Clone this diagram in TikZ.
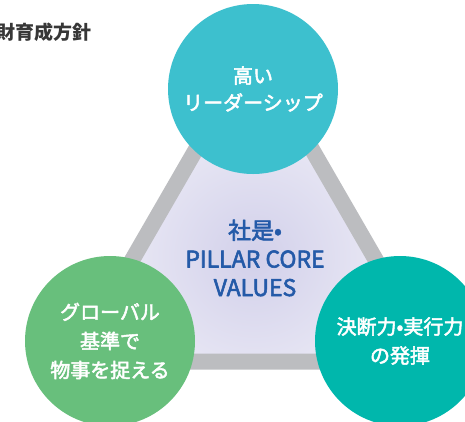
\documentclass[tikz,border=0pt]{standalone}
\usepackage{fontspec}
\setmainfont{Noto Sans CJK JP}
\newfontfamily\medfont{Noto Sans CJK JP}[BoldFont={Noto Sans CJK JP},BoldFeatures={FakeBold=2.5}]
\definecolor{leadcyan}{RGB}{61,192,206}
\definecolor{globgreen}{RGB}{104,191,124}
\definecolor{decteal}{RGB}{0,183,172}
\definecolor{bandgray}{RGB}{188,189,192}
\definecolor{coreblue}{RGB}{36,90,168}
\definecolor{corelav}{RGB}{210,208,234}
\definecolor{titlegray}{RGB}{55,55,55}

\begin{document}
\begin{tikzpicture}[x=1pt,y=-1pt,line join=round,
  pillar/.style={circle,minimum size=170pt,inner sep=0pt,text=white,align=center,font=\medfont\bfseries\fontsize{20}{29}\selectfont}]
\useasboundingbox (0,0) rectangle (465,421);
\node[anchor=west,inner sep=0pt,text=titlegray,font=\bfseries\fontsize{19}{19}\selectfont] (title) at (-4,32) {財育成方針};
% gray triangle behind the three circles
\coordinate (apex) at (254,49);
\coordinate (baseL) at (73.5,361.5);
\coordinate (baseR) at (434.5,361.5);
\begin{scope}
\clip (apex) -- (baseL) -- (baseR) -- cycle;
\shade[inner color=corelav,outer color=white] (254,257) circle (260);
\end{scope}
\draw[bandgray,line width=16pt] (apex) -- (baseL) -- (baseR) -- cycle;
% circles
\node[pillar,fill=leadcyan] (lead) at (253,89) {高い\\[-2pt]リーダーシップ};
\node[pillar,fill=globgreen] (global) at (110,341) {グローバル\\基準で\\物事を捉える};
\node[pillar,fill=decteal] (decide) at (400,341) {決断力•実行力\\の発揮};
\node[text=coreblue,align=center,font=\medfont\bfseries\fontsize{23}{28.5}\selectfont] (core) at (255,258) {社是•\\PILLAR CORE\\VALUES};
\end{tikzpicture}
\end{document}
